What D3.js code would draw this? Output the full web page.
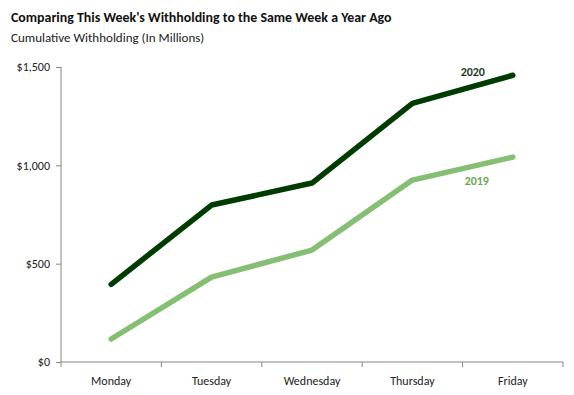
<!DOCTYPE html>
<html>
<head>
<meta charset="utf-8">
<script src="https://cdn.jsdelivr.net/npm/d3@7"></script>
<style>
  body { margin: 0; background: #fff; }
  svg { font-family: Calibri, Carlito, Lato, sans-serif; }
</style>
</head>
<body>
<svg width="574" height="395"></svg>
<script>
var days = ["Monday", "Tuesday", "Wednesday", "Thursday", "Friday"];
var values2020 = [395, 798, 910, 1315, 1458];
var values2019 = [117, 432, 569, 925, 1042];
var yTicks = [0, 500, 1000, 1500];

var svg = d3.select("svg");
var margin = {left: 61, right: 11, top: 67, bottom: 33};
var w = 574 - margin.left - margin.right,
    h = 395 - margin.top - margin.bottom;

svg.append("text")
    .attr("x", 11).attr("y", 22)
    .attr("font-size", "13.9px").attr("font-weight", "bold")
    .attr("fill", "#111")
    .text("Comparing This Week's Withholding to the Same Week a Year Ago");
svg.append("text")
    .attr("x", 11).attr("y", 42)
    .attr("font-size", "13px").attr("fill", "#222")
    .text("Cumulative Withholding (In Millions)");

var g = svg.append("g").attr("transform", "translate(" + margin.left + "," + margin.top + ")");

var x = d3.scaleBand().domain(days).range([0, w]);
var y = d3.scaleLinear().domain([0, 1500]).range([h, 0]);

var yAxis = g.append("g")
    .call(d3.axisLeft(y).tickValues(yTicks).tickSize(5).tickPadding(6)
      .tickFormat(function(d) { return "$" + d3.format(",")(d); }));
var xAxis = g.append("g").attr("transform", "translate(0," + h + ")")
    .call(d3.axisBottom(x).tickSize(0).tickPadding(16));
xAxis.selectAll(".tick").remove();
xAxis.selectAll(".band-tick")
    .data(days.concat(["end"]))
    .enter().append("line")
    .attr("x1", function(d, i) { return i * x.bandwidth(); })
    .attr("x2", function(d, i) { return i * x.bandwidth(); })
    .attr("y1", 0).attr("y2", 5)
    .attr("stroke", "#868686");
xAxis.selectAll(".lab")
    .data(days)
    .enter().append("text")
    .attr("x", function(d) { return x(d) + x.bandwidth() / 2; })
    .attr("y", 23)
    .attr("text-anchor", "middle")
    .attr("fill", "#222")
    .attr("font-size", "12px")
    .text(function(d) { return d; });

[yAxis, xAxis].forEach(function(a) {
  a.selectAll("path, line").attr("stroke", "#868686");
  a.select(".domain").attr("d", a === yAxis ? "M0,0V" + h : "M0,0H" + w);
  a.selectAll("text").attr("font-family", "Calibri, Carlito, Lato, sans-serif");
});
yAxis.selectAll("text").attr("font-size", "12px").attr("fill", "#222");

var line = d3.line()
    .x(function(d, i) { return x(days[i]) + x.bandwidth() / 2; })
    .y(function(d) { return y(d); });

g.append("path").datum(values2019)
    .attr("d", line).attr("fill", "none")
    .attr("stroke", "#85bf74").attr("stroke-width", 5.5)
    .attr("stroke-linecap", "round").attr("stroke-linejoin", "round");
g.append("path").datum(values2020)
    .attr("d", line).attr("fill", "none")
    .attr("stroke", "#003b00").attr("stroke-width", 5.5)
    .attr("stroke-linecap", "round").attr("stroke-linejoin", "round");

var lastX = x(days[4]) + x.bandwidth() / 2;
g.append("text")
    .attr("x", lastX - 40).attr("y", y(values2020[4]) + 1)
    .attr("text-anchor", "middle").attr("font-weight", "bold")
    .attr("font-size", "12px").attr("fill", "#1e3a1e")
    .text("2020");
g.append("text")
    .attr("x", lastX - 36).attr("y", y(values2019[4]) + 28)
    .attr("text-anchor", "middle").attr("font-weight", "bold")
    .attr("font-size", "12px").attr("fill", "#6aa84f")
    .text("2019");
</script>
</body>
</html>
